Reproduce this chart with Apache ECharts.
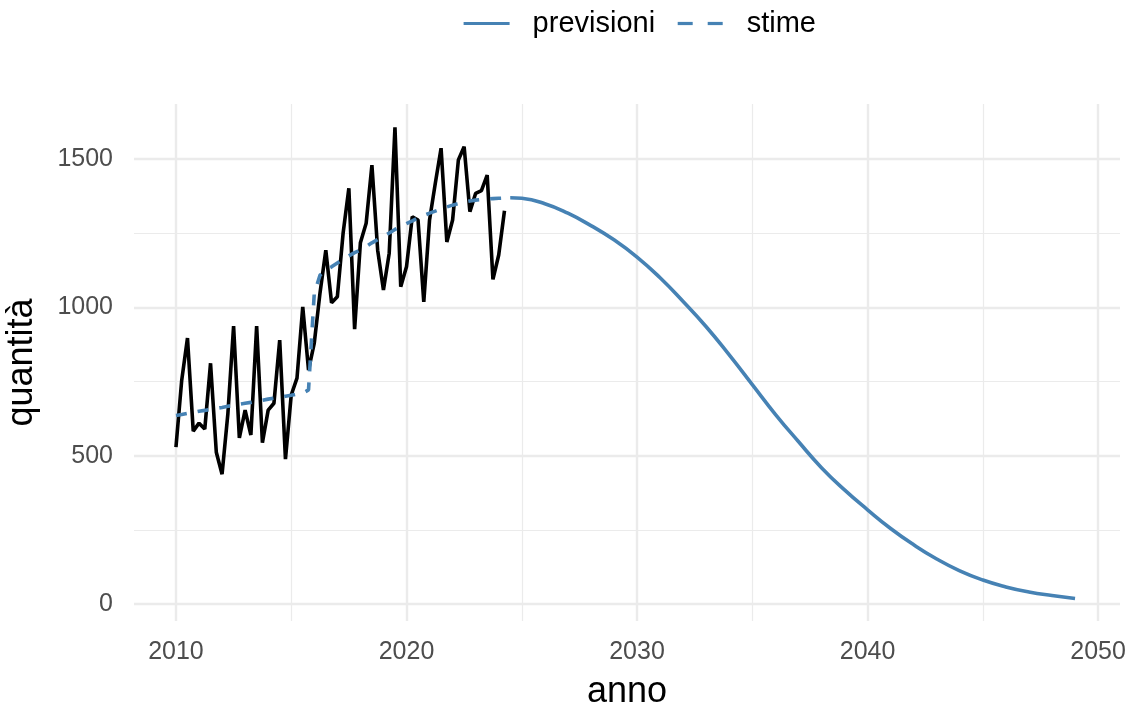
<!DOCTYPE html>
<html>
<head>
<meta charset="utf-8">
<script src="https://cdn.jsdelivr.net/npm/echarts@6/dist/echarts.min.js"></script>
<style>
  html, body { margin: 0; padding: 0; background: #ffffff; }
  #chart { width: 1132px; height: 703px; }
</style>
</head>
<body>
<div id="chart"></div>
<script>
// Quarterly observations, 2010 Q1 .. 2024 Q2
const obsStart = 2010;
const osservati = [
  529, 755, 897, 583,
  610, 590, 812, 512,
  438, 640, 937, 560,
  654, 570, 937, 544,
  654, 677, 890, 489,
  705, 762, 1002, 789,
  880, 1050, 1193, 1016,
  1036, 1250, 1402, 927,
  1218, 1284, 1480, 1193,
  1059, 1183, 1607, 1070,
  1137, 1306, 1295, 1019,
  1295, 1419, 1537, 1221,
  1295, 1497, 1542, 1323,
  1385, 1394, 1446, 1095,
  1177, 1326
];

// Fitted values on the same quarterly index
const stime = [
  636, 639, 643, 646,
  650, 653, 657, 660,
  663, 667, 670, 674,
  677, 680, 684, 687,
  691, 694, 697, 701,
  704, 708, 711, 722,
  1048, 1109, 1126, 1137,
  1150, 1162, 1174, 1185,
  1194, 1205, 1218, 1229,
  1240, 1251, 1263, 1273,
  1283, 1292, 1302, 1310,
  1318, 1325, 1332, 1339,
  1345, 1350, 1355, 1359,
  1362, 1364, 1366, 1367,
  1368, 1369
];

// Forecast horizon
const anniPrevisione = [2024.5, 2025, 2026, 2027, 2028, 2029, 2030, 2031, 2032, 2033,
  2034, 2035, 2036, 2037, 2038, 2039, 2040, 2041, 2042, 2043, 2044, 2045, 2046, 2047, 2048, 2049];
const previsioni = [1370, 1368, 1350, 1318, 1276, 1228, 1170, 1100, 1020, 935,
  840, 740, 640, 548, 460, 385, 318, 255, 200, 152, 112, 81, 58, 41, 29, 19];

// Axis ticks
const xMajor = [2010, 2020, 2030, 2040, 2050];
const xMinor = [2015, 2025, 2035, 2045];
const yMajor = [0, 500, 1000, 1500];
const yMinor = [250, 750, 1250];

const quarter = (arr) => arr.map((v, i) => [obsStart + i * 0.25, v]);
const osservatiData = quarter(osservati);
const stimeData = quarter(stime);
const previsioniData = anniPrevisione.map((a, i) => [a, previsioni[i]]);

const BLUE = '#4682B4';
const GRID = '#EBEBEB';
const FONT = 'Liberation Sans';
const plain = (v) => String(v);

const xRange = { min: 2008.18, max: 2050.95 };
const yRange = { min: -57, max: 1686 };

const chart = echarts.init(document.getElementById('chart'), null, { renderer: 'canvas' });
chart.setOption({
  animation: false,
  backgroundColor: '#ffffff',
  textStyle: { fontFamily: FONT },
  grid: { left: 134, right: 12, top: 104, bottom: 82, containLabel: false, outerBoundsMode: 'none' },
  legend: {
    data: [
      { name: 'previsioni', lineStyle: { type: 'solid', width: 3.2 } },
      { name: 'stime', lineStyle: { type: [15, 15], width: 3.2 } }
    ],
    left: 457,
    top: 4,
    itemWidth: 46,
    itemHeight: 14,
    itemGap: 21,
    itemStyle: { opacity: 0 },
    textStyle: { fontSize: 29, color: '#000000', fontFamily: FONT, padding: [0, 0, 0, 18] }
  },
  xAxis: [
    {
      type: 'value', ...xRange,
      name: 'anno', nameLocation: 'middle', nameGap: 53,
      nameTextStyle: { fontSize: 36, color: '#000000', fontFamily: FONT },
      axisLine: { show: false },
      axisTick: { show: false, customValues: xMajor },
      axisLabel: { customValues: xMajor, formatter: plain, fontSize: 25, color: '#4D4D4D', margin: 19, fontFamily: FONT },
      splitLine: { show: true, lineStyle: { color: GRID, width: 2.4 } }
    },
    {
      type: 'value', ...xRange,
      axisLine: { show: false },
      axisTick: { show: false, customValues: xMinor },
      axisLabel: { show: false, customValues: xMinor },
      splitLine: { show: true, lineStyle: { color: GRID, width: 1.2 } }
    }
  ],
  yAxis: [
    {
      type: 'value', ...yRange,
      name: 'quantità', nameLocation: 'middle', nameGap: 94,
      nameTextStyle: { fontSize: 36, color: '#000000', fontFamily: FONT },
      axisLine: { show: false },
      axisTick: { show: false, customValues: yMajor },
      axisLabel: { customValues: yMajor, formatter: plain, fontSize: 25, color: '#4D4D4D', margin: 21, fontFamily: FONT },
      splitLine: { show: true, lineStyle: { color: GRID, width: 2.4 } }
    },
    {
      type: 'value', ...yRange,
      position: 'left',
      axisLine: { show: false },
      axisTick: { show: false, customValues: yMinor },
      axisLabel: { show: false, customValues: yMinor },
      splitLine: { show: true, lineStyle: { color: GRID, width: 1.2 } }
    }
  ],
  series: [
    {
      name: 'osservati', type: 'line', data: osservatiData,
      symbol: 'none', z: 2,
      lineStyle: { color: '#000000', width: 3.6 }
    },
    {
      name: 'stime', type: 'line', data: stimeData,
      symbol: 'none', z: 3,
      itemStyle: { color: BLUE },
      lineStyle: { color: BLUE, width: 3.6, type: [11, 11] }
    },
    {
      name: 'previsioni', type: 'line', data: previsioniData,
      symbol: 'none', z: 3, smooth: true,
      itemStyle: { color: BLUE },
      lineStyle: { color: BLUE, width: 3.6 }
    }
  ]
});
</script>
</body>
</html>
